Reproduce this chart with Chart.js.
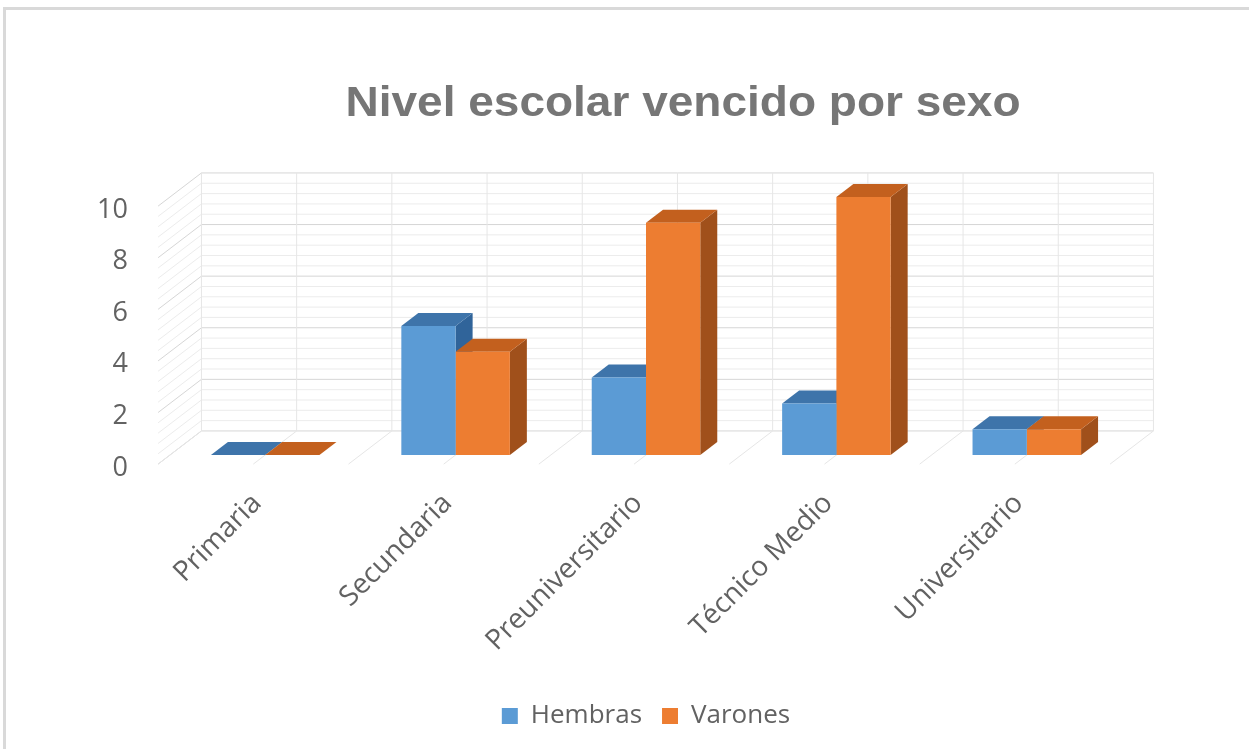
<!DOCTYPE html>
<html><head><meta charset="utf-8">
<script src="https://cdn.jsdelivr.net/npm/chart.js@4.4.1/dist/chart.umd.min.js"></script>
<style>html,body{margin:0;padding:0;background:#fff;}canvas{display:block;}</style>
</head><body>
<canvas id="c" width="1249" height="749"></canvas>
<script>
// ---- data ----
const categories = ['Primaria', 'Secundaria', 'Preuniversitario', 'Técnico Medio', 'Universitario'];
const seriesNames = ['Hembras', 'Varones'];
const hembras = [0, 5, 3, 2, 1];
const varones = [0, 4, 9, 10, 1];
const yTickStep = 2;
const yMin = 0;
const yMax = 10;
const titleText = 'Nivel escolar vencido por sexo';

// ---- styles ----
const frontColors = ['#5B9BD5', '#ED7D31'];
const topColors = ['#3E74AA', '#C3601E'];
const sideColors = ['#30649A', '#A0501B'];
const textColor = '#626262';
const DEPTH = { kx: 17, ky: 13, back: 1.85, front: -0.7, minorStep: 0.4 };

function proj(x, y, d) { return [x + d * DEPTH.kx, y - d * DEPTH.ky]; }
function line(ctx, a, b) { ctx.beginPath(); ctx.moveTo(a[0], a[1]); ctx.lineTo(b[0], b[1]); ctx.stroke(); }
function poly(ctx, pts, color) {
  ctx.beginPath(); ctx.moveTo(pts[0][0], pts[0][1]);
  for (let i = 1; i < pts.length; i++) ctx.lineTo(pts[i][0], pts[i][1]);
  ctx.closePath(); ctx.fillStyle = color; ctx.fill();
}

const framePlugin = {
  id: 'frame',
  beforeDraw(chart) {
    const ctx = chart.ctx;
    ctx.save();
    ctx.fillStyle = '#ffffff';
    ctx.fillRect(0, 0, chart.width, chart.height);
    ctx.fillStyle = '#d9d9d9';
    ctx.fillRect(3, 7, chart.width - 3, 3);
    ctx.fillRect(3, 7, 3, chart.height - 7);
    // title
    ctx.fillStyle = '#767676';
    ctx.font = 'bold 43px "Liberation Sans", Arial, sans-serif';
    ctx.textAlign = 'center';
    ctx.textBaseline = 'alphabetic';
    ctx.translate(683, 116);
    ctx.scale(1.07, 1);
    ctx.fillText(titleText, 0, 0);
    ctx.restore();
  }
};

const wallsPlugin = {
  id: 'walls3d',
  beforeDatasetsDraw(chart) {
    const ctx = chart.ctx;
    const { left, right } = chart.chartArea;
    const ys = chart.scales.y;
    const n = categories.length;
    const catW = (right - left) / n;
    const y0 = ys.getPixelForValue(ys.min);
    const yT = ys.getPixelForValue(ys.max);
    ctx.save();
    ctx.lineWidth = 1;
    const vals = [];
    const steps = Math.round((ys.max - ys.min) / DEPTH.minorStep);
    for (let i = 0; i <= steps; i++) vals.push(ys.min + i * DEPTH.minorStep);
    [false, true].forEach(major => {
      ctx.strokeStyle = major ? '#d6d6d6' : '#ececec';
      vals.forEach(v => {
        const isMajor = Math.abs(v / yTickStep - Math.round(v / yTickStep)) < 1e-6;
        if (isMajor !== major) return;
        const py = ys.getPixelForValue(v);
        line(ctx, proj(left, py, DEPTH.back), proj(right, py, DEPTH.back));
        line(ctx, proj(left, py, DEPTH.front), proj(left, py, DEPTH.back));
      });
    });
    ctx.strokeStyle = '#e6e6e6';
    for (let k = 0; k <= 2 * n; k++) {
      const px = left + k * catW / 2;
      line(ctx, proj(px, y0, DEPTH.back), proj(px, yT, DEPTH.back));
      line(ctx, proj(px, y0, DEPTH.front), proj(px, y0, DEPTH.back));
    }
    for (let i = 0; i < n; i++) {
      chart.data.datasets.forEach((ds, j) => {
        const el = chart.getDatasetMeta(j).data[i];
        if (!el) return;
        const lx = el.x - el.width / 2, rx = el.x + el.width / 2;
        const t = el.y, b = el.base;
        poly(ctx, [proj(rx, t, 0), proj(rx, t, 1), proj(rx, b, 1), proj(rx, b, 0)], sideColors[j]);
        poly(ctx, [proj(lx, t, 0), proj(rx, t, 0), proj(rx, t, 1), proj(lx, t, 1)], topColors[j]);
      });
    }
    ctx.restore();
  }
};

new Chart(document.getElementById('c'), {
  type: 'bar',
  data: {
    labels: categories,
    datasets: [
      { label: seriesNames[0], data: hembras, backgroundColor: frontColors[0], borderWidth: 0, categoryPercentage: 0.57, barPercentage: 1 },
      { label: seriesNames[1], data: varones, backgroundColor: frontColors[1], borderWidth: 0, categoryPercentage: 0.57, barPercentage: 1 }
    ]
  },
  options: {
    responsive: false,
    animation: false,
    devicePixelRatio: 1,
    layout: { padding: { left: 0, right: 127, top: 197, bottom: 10 } },
    plugins: {
      title: { display: false },
      tooltip: { enabled: false },
      legend: {
        position: 'bottom',
        fullSize: false,
        labels: { boxWidth: 16, boxHeight: 16, padding: 20, color: textColor, font: { family: 'Open Sans', size: 26 } }
      }
    },
    scales: {
      x: {
        grid: { display: false, drawTicks: false },
        border: { display: false },
        ticks: { minRotation: 45, maxRotation: 45, autoSkip: false, padding: 32, labelOffset: -8, color: textColor, font: { family: 'Open Sans', size: 28 } },
        afterFit: s => { s.height = 228; }
      },
      y: {
        min: yMin, max: yMax,
        grid: { display: false, drawTicks: false },
        border: { display: false },
        ticks: { stepSize: yTickStep, padding: 42, labelOffset: 13, color: textColor, font: { family: 'Open Sans', size: 27 } },
        afterFit: s => { s.width = 170; }
      }
    }
  },
  plugins: [framePlugin, wallsPlugin]
});
</script>
</body></html>
